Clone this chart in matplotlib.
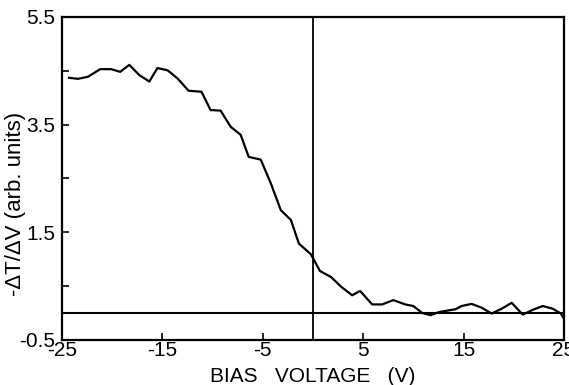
import numpy as np
import matplotlib.pyplot as plt

# ----------------------------------------------------
# Data
# ----------------------------------------------------

bias = [-24.3, -23.4, -22.4, -21.2, -20.1, -19.2, -18.3, -17.3, -16.3,
        -15.5, -14.5, -13.5, -12.4, -11.1, -10.2, -9.2, -8.2, -7.2,
        -6.4, -5.2, -4.2, -3.2, -2.2, -1.4, -0.2, 0.7, 1.8, 2.8, 3.9,
        4.7, 5.9, 6.9, 8.0, 9.2, 10.0, 10.9, 11.7, 12.6, 14.2, 14.8,
        15.8, 16.8, 17.8, 18.8, 19.8, 20.9, 21.9, 22.9, 23.9, 24.7, 25.0]

signal = [4.37, 4.35, 4.39, 4.53, 4.53, 4.48, 4.61, 4.42, 4.30,
          4.55, 4.51, 4.36, 4.13, 4.11, 3.77, 3.76, 3.46, 3.31,
          2.90, 2.85, 2.41, 1.91, 1.73, 1.29, 1.09, 0.78, 0.67, 0.49, 0.33,
          0.41, 0.16, 0.16, 0.24, 0.16, 0.13, 0.00, -0.04, 0.02, 0.07, 0.13,
          0.17, 0.10, -0.01, 0.08, 0.19, -0.03, 0.06, 0.13, 0.08, -0.01, -0.10]

x_ticks = [-25, -15, -5, 5, 15, 25]
y_ticks = [-0.5, 1.5, 3.5, 5.5]
y_minor = [0.5, 2.5, 4.5]

# ----------------------------------------------------
# Plot
# ----------------------------------------------------

plt.rcParams['font.family'] = ['Liberation Sans', 'DejaVu Sans']

fig = plt.figure(figsize=(5.69, 3.85), dpi=100)
ax = fig.add_axes([0.109, 0.117, 0.882, 0.839])

ax.plot(bias, signal, color="black", linewidth=1.6)

ax.axhline(0, color="black", linewidth=1.5)
ax.axvline(0, color="black", linewidth=1.3)

ax.set_xlim(-25, 25)
ax.set_ylim(-0.5, 5.5)

ax.set_xticks(x_ticks)
ax.set_xticklabels([str(t) for t in x_ticks])
ax.set_yticks(y_ticks)
ax.set_yticklabels([f"{t:.1f}" for t in y_ticks])
ax.set_yticks(y_minor, minor=True)

ax.tick_params(axis="both", direction="in", length=5, width=1.2,
               labelsize=15, pad=1)
ax.tick_params(axis="y", pad=5)
ax.tick_params(axis="y", which="minor", direction="in", length=5, width=1.2)

for s in ax.spines.values():
    s.set_linewidth(1.6)

ax.set_xlabel("BIAS   VOLTAGE   (V)", fontsize=15)
ax.xaxis.set_label_coords(0.5, -0.085)
ax.set_ylabel("-ΔT/ΔV (arb. units)", fontsize=16)
ax.yaxis.set_label_coords(-0.072, 0.42)

fig.savefig("out.png", dpi=100)
